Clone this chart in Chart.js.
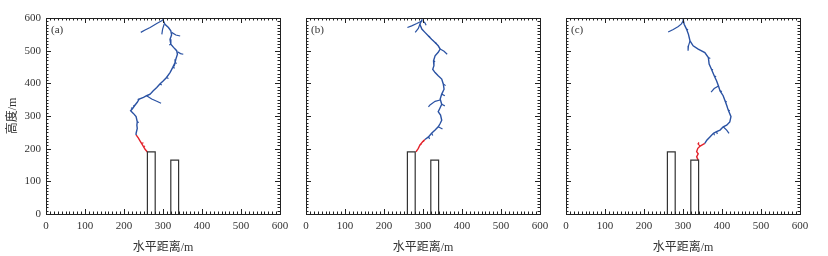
<!DOCTYPE html>
<html>
<head>
<meta charset="utf-8">
<script src="https://cdn.jsdelivr.net/npm/chart.js@4.4.0/dist/chart.umd.min.js"></script>
<style>
  body { margin: 0; background: #fff; width: 828px; height: 256px; position: relative; overflow: hidden; }
  canvas { position: absolute; top: 0; }
</style>
</head>
<body>
<canvas id="chartA" width="300" height="256" style="left:0px"></canvas>
<canvas id="chartB" width="270" height="256" style="left:290px"></canvas>
<canvas id="chartC" width="278" height="256" style="left:550px"></canvas>
<script>
//// Axis ticks
const xTicks = [0, 100, 200, 300, 400, 500, 600];
const yTicks = [0, 100, 200, 300, 400, 500, 600];

//// Buildings (x, height in m)
const building1 = [[260, 0], [260, 190], [280, 190], [280, 0]];
const building2 = [[320, 0], [320, 165], [340, 165], [340, 0]];

//// Panel (a)
const aMain = [[299,596],[305,581],[314,571],[320,561],[322,548],[318,535],[320,520],[327,510],[335,500],[337,489],[333,474],[331,464],[325,449],[318,433],[309,418],[301,408],[292,398],[284,387],[275,377],[267,367],[258,362],[250,357],[239,352],[234,342],[228,333],[222,323],[217,316],[224,308],[231,298],[234,282],[233,272],[234,262],[231,247],[231,242]];
const aRed = [[231,242],[237,232],[241,224],[245,216],[250,206],[254,198],[260,190]];
const aBranches = [
  [[299,593],[284,583],[267,571],[254,563],[243,556]],
  [[303,581],[299,566],[297,550]],
  [[322,556],[333,548],[344,545]],
  [[337,497],[345,491],[352,489]],
  [[258,362],[271,352],[284,345],[295,339]],
  [[325,449],[330,446]], [[309,418],[314,415]], [[292,398],[297,395]],
  [[239,352],[235,350]], [[222,323],[218,325]], [[234,282],[238,280]],
  [[320,520],[316,517]], [[331,464],[335,461]], [[228,333],[224,331]]
];
const aRedBranches = [[[245,216],[250,218]], [[250,206],[254,208]]];

//// Panel (b)
const bMain = [[298,596],[292,581],[297,566],[305,556],[314,545],[322,535],[331,525],[339,515],[344,505],[339,495],[331,484],[327,469],[328,454],[325,443],[331,433],[339,423],[348,413],[352,398],[354,382],[348,367],[344,352],[348,336],[343,323],[339,313],[345,303],[348,287],[344,277],[339,267],[331,257],[322,247],[314,236],[305,228]];
const bRed = [[305,228],[299,221],[292,211],[288,201],[282,190]];
const bBranches = [
  [[297,591],[284,583],[271,576],[260,571]],
  [[299,592],[305,585],[308,578]],
  [[292,581],[288,568],[280,556]],
  [[344,505],[354,498],[362,489]],
  [[344,349],[331,345],[318,334],[314,328]],
  [[352,398],[358,393]], [[348,367],[356,362]], [[348,336],[356,331]],
  [[339,267],[350,260]], [[322,247],[325,240]], [[314,236],[317,230]],
  [[314,545],[318,541]], [[331,525],[335,521]], [[327,469],[331,466]]
];
const bRedBranches = [[[299,221],[303,224]], [[292,211],[296,214]]];

//// Panel (c)
const cMain = [[300,599],[301,592],[303,581],[309,566],[314,550],[318,530],[326,515],[339,505],[356,494],[365,479],[367,459],[373,443],[380,423],[386,408],[391,392],[395,377],[403,362],[408,346],[412,333],[416,318],[423,298],[420,282],[412,272],[403,267],[395,257],[386,252],[378,247],[369,236],[361,226],[356,216]];
const cRed = [[356,216],[344,208],[338,201],[335,191],[339,184],[335,175],[339,165]];
const cBranches = [
  [[301,592],[296,582],[288,574],[275,565],[262,557]],
  [[318,530],[314,515],[313,500]],
  [[391,392],[380,384],[372,373]],
  [[403,267],[412,257],[418,247]],
  [[365,479],[370,476]], [[380,423],[385,420]], [[395,377],[400,375]],
  [[408,346],[412,343]], [[386,252],[388,245]], [[378,247],[381,241]],
  [[309,566],[313,563]], [[373,443],[377,441]], [[416,318],[420,316]]
];
const cRedBranches = [[[344,208],[339,214],[340,220]]];

const BLUE = "#2a52a3";
const RED = "#e3222b";
const FONT = "'Liberation Serif', 'Noto Sans CJK SC', serif";

function lineSet(points, color, width) {
  return {
    data: points.map(p => ({ x: p[0], y: p[1] })),
    borderColor: color,
    borderWidth: width,
    showLine: true,
    pointRadius: 0,
    fill: false,
    tension: 0,
  };
}

// frame with inward ticks on all four sides + panel letter
const framePlugin = {
  id: "frame",
  afterDraw(chart, args, opts) {
    const { ctx, chartArea: a, scales } = chart;
    const x = scales.x, y = scales.y;
    ctx.save();
    ctx.strokeStyle = "#222";
    ctx.lineWidth = 1;
    ctx.strokeRect(Math.round(a.left) + 0.5, Math.round(a.top) + 0.5,
      Math.round(a.right - a.left), Math.round(a.bottom - a.top));
    ctx.beginPath();
    for (let v = 0; v <= 600; v += 10) {
      const len = v % 100 === 0 ? 5 : 2.5;
      const px = Math.round(x.getPixelForValue(v)) + 0.5;
      ctx.moveTo(px, a.bottom); ctx.lineTo(px, a.bottom - len);
      ctx.moveTo(px, a.top); ctx.lineTo(px, a.top + len);
      const py = Math.round(y.getPixelForValue(v)) + 0.5;
      ctx.moveTo(a.left, py); ctx.lineTo(a.left + len, py);
      ctx.moveTo(a.right, py); ctx.lineTo(a.right - len, py);
    }
    ctx.stroke();
    ctx.fillStyle = "#333";
    ctx.font = "11px " + FONT;
    ctx.textBaseline = "alphabetic";
    ctx.fillText(opts.label, a.left + 5, a.top + 15);
    ctx.restore();
  },
};

function makePanel(id, label, main, red, branches, redBranches, showY, pad) {
  const datasets = [
    lineSet(building1, "#333", 1.2),
    lineSet(building2, "#333", 1.2),
    lineSet(main, BLUE, 1.4),
    ...branches.map(b => lineSet(b, BLUE, 1.2)),
    lineSet(red, RED, 1.4),
    ...redBranches.map(b => lineSet(b, RED, 1.2)),
  ];
  return new Chart(document.getElementById(id), {
    type: "scatter",
    data: { datasets },
    plugins: [framePlugin],
    options: {
      responsive: false,
      animation: false,
      layout: { padding: pad },
      plugins: {
        legend: { display: false },
        tooltip: { enabled: false },
        frame: { label },
      },
      scales: {
        x: {
          type: "linear",
          min: 0,
          max: 600,
          grid: { display: false, drawTicks: false },
          border: { display: false },
          afterBuildTicks: (scale) => { scale.ticks = xTicks.map(v => ({ value: v })); },
          afterFit: (scale) => { scale.height = 42; },
          ticks: { padding: 6, color: "#333", font: { family: FONT, size: 11 }, maxRotation: 0 },
          title: { display: true, text: "水平距离/m", color: "#333", font: { family: FONT, size: 12 }, padding: { top: 0, bottom: 1 } },
        },
        y: {
          type: "linear",
          display: showY,
          min: 0,
          max: 600,
          grid: { display: false, drawTicks: false },
          border: { display: false },
          afterBuildTicks: (scale) => { scale.ticks = yTicks.map(v => ({ value: v })); },
          afterFit: (scale) => { scale.width = showY ? 46 : 0; },
          ticks: { padding: 5, color: "#333", font: { family: FONT, size: 11 } },
          title: { display: true, text: "高度/m", color: "#333", font: { family: FONT, size: 12 }, padding: { top: 6, bottom: 0 } },
        },
      },
    },
  });
}

makePanel("chartA", "(a)", aMain, aRed, aBranches, aRedBranches, true, { left: 0, right: 20, top: 18, bottom: 0 });
makePanel("chartB", "(b)", bMain, bRed, bBranches, bRedBranches, false, { left: 16, right: 20, top: 18, bottom: 0 });
makePanel("chartC", "(c)", cMain, cRed, cBranches, cRedBranches, false, { left: 16, right: 28, top: 18, bottom: 0 });
</script>
</body>
</html>
